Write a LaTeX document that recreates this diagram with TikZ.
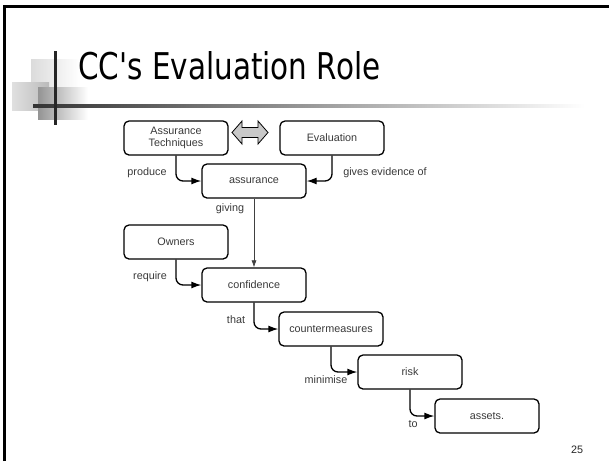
\documentclass[tikz,border=0pt]{standalone}
\usepackage{fontspec}
\setmainfont{Liberation Sans}
\newfontfamily\titlefont{DejaVu Sans}
\usetikzlibrary{arrows.meta}
\definecolor{txtgray}{HTML}{3A3A3A}
\definecolor{arrowfill}{HTML}{C8C8C8}
\tikzset{
  box/.style={draw=black, line width=1.3pt, rounded corners=5pt,
    minimum width=104pt, minimum height=34pt, inner sep=1pt,
    align=center, text=txtgray, font=\fontsize{10.8}{12.5}\selectfont},
  lbl/.style={text=txtgray, font=\fontsize{10.8}{12}\selectfont, inner sep=0pt},
  conn/.style={line width=1.3pt, rounded corners=7pt,
    -{Latex[length=10pt,width=7pt]}},
  thinconn/.style={line width=0.7pt, draw=black!75,
    -{Latex[length=7pt,width=5pt]}}
}
\begin{document}
\begin{tikzpicture}[x=1pt,y=-1pt]
\useasboundingbox (0,0) rectangle (609,461);
\fill[white] (0,0) rectangle (609,461);

% slide frame
\draw[line width=3pt] (4.5,461) -- (4.5,6.5) -- (609,6.5);

% title ornament: shaded squares and cross lines
\shade[left color=black!14, right color=white] (31,59) rectangle (80,90);
\shade[left color=black!12, right color=black!27] (12,82) rectangle (49,110);
\shade[left color=black!42, right color=white] (38,87) rectangle (88,119);
\shade[left color=black!80, right color=white] (33,104) rectangle (585,107);
\draw[line width=3pt, black!85] (55.5,51) -- (55.5,125);

% title
\node[anchor=south west, inner sep=0pt] (title) at (78,80)
  {\resizebox{302pt}{28pt}{\titlefont CC's Evaluation Role}};

% concept boxes
\node[box] (tech) at (176,138) {Assurance\\Techniques};
\node[box] (eval) at (332,138) {Evaluation};
\node[box] (assur) at (254,181) {assurance};
\node[box] (owners) at (176,242) {Owners};
\node[box] (conf) at (254,285) {confidence};
\node[box] (cm) at (331,329) {countermeasures};
\node[box] (risk) at (410,372) {risk};
\node[box] (assets) at (487,416) {assets.};

% two-way block arrow between the top boxes
\filldraw[fill=arrowfill, draw=black, line width=0.8pt, line join=miter]
  (232,132.5) -- (242,121) -- (242,127.5) -- (258,127.5) -- (258,121)
  -- (268,132.5) -- (258,144) -- (258,137.5) -- (242,137.5) -- (242,144)
  -- cycle;

% relations
\draw[conn] (tech.south) |- (assur.west);
\draw[conn] (eval.south) |- (assur.east);
\draw[thinconn] (assur.south) -- (conf.north);
\draw[conn] (owners.south) |- (conf.west);
\draw[conn] (conf.south) |- (cm.west);
\draw[conn] (cm.south) |- (risk.west);
\draw[conn] (risk.south) |- (assets.west);

% relation labels
\node[lbl] (lproduce) at (147,173) {produce};
\node[lbl] (lgives) at (385,173) {gives evidence of};
\node[lbl] (lgiving) at (230,209) {giving};
\node[lbl] (lrequire) at (150,277) {require};
\node[lbl] (lthat) at (236,320) {that};
\node[lbl] (lmin) at (326,380) {minimise};
\node[lbl] (lto) at (413,424) {to};

% page number
\node[lbl, text=black!85] (page) at (577,450) {25};
\end{tikzpicture}
\end{document}
